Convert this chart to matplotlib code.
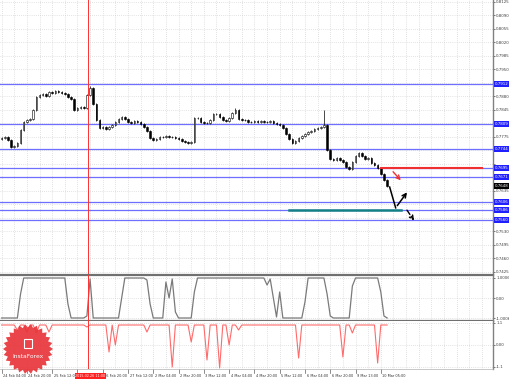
import numpy as np
import matplotlib
matplotlib.use("Agg")
import matplotlib.pyplot as plt
from matplotlib.patches import Polygon

# AUD/USD, 2-hour candles, 24 Feb - 10 Mar 2015
first_open = 0.7770
closes = [
    0.7772, 0.7775, 0.7767, 0.7749, 0.7751, 0.7759, 0.7793, 0.7814, 0.7819, 0.7821,
    0.7845, 0.7878, 0.7884, 0.7886, 0.7881, 0.7891, 0.7889, 0.7894, 0.7891, 0.7889,
    0.7886, 0.7878, 0.7873, 0.7845, 0.7850, 0.7853, 0.7850, 0.7884, 0.7902, 0.7860,
    0.7819, 0.7798, 0.7801, 0.7796, 0.7801, 0.7806, 0.7814, 0.7821, 0.7827, 0.7821,
    0.7814, 0.7811, 0.7816, 0.7814, 0.7808, 0.7801, 0.7790, 0.7772, 0.7767, 0.7770,
    0.7775, 0.7775, 0.7777, 0.7775, 0.7775, 0.7772, 0.7770, 0.7764, 0.7762, 0.7759,
    0.7762, 0.7824, 0.7824, 0.7814, 0.7811, 0.7811, 0.7819, 0.7834, 0.7834, 0.7827,
    0.7819, 0.7816, 0.7824, 0.7837, 0.7845, 0.7821, 0.7819, 0.7819, 0.7814, 0.7814,
    0.7816, 0.7814, 0.7816, 0.7814, 0.7814, 0.7816, 0.7811, 0.7808, 0.7806, 0.7798,
    0.7783, 0.7770, 0.7759, 0.7764, 0.7772, 0.7777, 0.7783, 0.7788, 0.7790, 0.7796,
    0.7798, 0.7801, 0.7806, 0.7741, 0.7718, 0.7715, 0.7720, 0.7715, 0.7710, 0.7697,
    0.7692, 0.7710, 0.7725, 0.7733, 0.7725, 0.7718, 0.7720, 0.7707, 0.7702, 0.7694,
    0.7679, 0.7663, 0.7648,
]
spike_highs = {28: 0.7906, 74: 0.7850, 102: 0.7845}

# oscillator 1 (gray)
trend = [
    -1, -1, -1, -1, -1, -1, 0.2, 1, 1, 1,
    1, 1, 1, 1, 1, 1, 1, 1, 1, 1,
    1, -0.3, -1, -1, -1, -1, -1, -0.9, 0.95, -1,
    -1, -1, -1, -1, -1, -1, -1, -1, 0.0, 1,
    1, 1, 1, 1, 1, 1, 0.9, -0.3, -1, -1,
    -1, -1, 0.8, 0.0, 0.95, -0.7, -1, -1, -1, -1,
    -1, 0.3, 1, 1, 1, 1, 1, 1, 1, 1,
    1, 1, 1, 1, 1, 1, 1, 1, 1, 1,
    1, 1, 1, 1, 0.65, 0.95, 0.0, -0.95, 0.3, -1,
    -1, -1, -1, -1, -1, -1, -0.2, 1, 1, 1,
    1, 1, 1, 0.2, -0.9, -1, -1, -1, -1, -1,
    -1, 0.6, 1, 1, 1, 1, 1, 1, 1, 1,
    0.3, -0.9, -1,
]
# oscillator 2 (red)
signal = [
    1, 1, 1, 1, 1, 0.75, 1, 1, 0.65, 1,
    1, 0.6, 1, 1, 1, 0.65, 1, 1, 1, 1,
    1, 1, 1, 1, 1, 1, 1, 0.9, 1, 1,
    1, 1, 1, 1, -0.35, 1, 0.0, 1, 1, 1,
    1, 1, 1, 1, 1, 1, 0.65, 1, 1, 1,
    1, 1, 1, 1, -1.1, 1, 1, 1, 1, 1,
    0.15, 1, 1, 1, 1, -0.75, 1, 1, 1, -1.15,
    1, 1, 0.0, 1, 1, 0.75, 1, 1, 1, 1,
    1, 1, 1, 1, 1, 1, 1, 1, 1, 1,
    1, 1, 1, 1, -0.65, 1, 1, 1, 1, 1,
    1, 1, 1, 1, 1, 1, 1, 1, -0.6, 1,
    1, 0.6, 1, 1, 1, 1, 1, 1, 1, -0.9,
    1, 1, 1,
]

levels = [0.7912, 0.7809, 0.7744, 0.7695, 0.7671, 0.7606, 0.7586, 0.7560]
support_level = 0.7585
resist_level = 0.7694
time_labels = ["24 Feb 04:00", "24 Feb 20:00", "25 Feb 12:00", "", "26 Feb 20:00",
               "27 Feb 12:00", "2 Mar 04:00", "2 Mar 20:00", "3 Mar 12:00",
               "4 Mar 04:00", "4 Mar 20:00", "5 Mar 12:00", "6 Mar 04:00",
               "6 Mar 20:00", "9 Mar 13:00", "10 Mar 05:00"]
cursor_bar = 27.5
cursor_label = "2015.02.26 11:00"

# forecast arrows (bar, price)
main_path = [(122.8, 0.7645), (124.7, 0.7591), (128.8, 0.7637)]
red_arrow = [(123.3, 0.7690), (126.9, 0.7657)]
dash_arrow = [(127.8, 0.7591), (131.0, 0.7552)]

W, H = 510, 379
fig = plt.figure(figsize=(W / 100, H / 100), dpi=100)


def px_axes(x0, y0, x1, y1):
    return fig.add_axes([x0 / W, 1 - y1 / H, (x1 - x0) / W, (y1 - y0) / H])


ax = px_axes(0, 0, 493, 274)
ax1 = px_axes(0, 275, 493, 321)
ax2 = px_axes(0, 321, 493, 369)

closes = np.array(closes)
x = np.arange(len(closes))
opens = np.r_[first_open, closes[:-1]]
wick = 0.00025
highs = np.maximum(opens, closes) + wick
lows = np.minimum(opens, closes) - wick
for i, h in spike_highs.items():
    highs[i] = h

LBL = 2.9
grid_kw = dict(color="#c8c8c8", lw=0.5, linestyle=(0, (1, 2)))
xmax = 155.5
for a in (ax, ax1, ax2):
    a.set_xlim(-0.5, xmax)
    a.set_xticks(np.arange(0, 156, 4))
    a.grid(True, **grid_kw)
    a.set_axisbelow(True)
    for s in ("left", "top", "bottom"):
        a.spines[s].set_visible(False)
    a.spines["right"].set_color("#808080")
    a.spines["right"].set_linewidth(1)
    a.yaxis.tick_right()
    a.tick_params(axis="y", labelsize=LBL, length=1.5, pad=0.8, colors="#404040",
                  width=0.5)
    a.tick_params(axis="x", length=0, labelbottom=False)

# main price panel
ax.set_ylim(0.74195, 0.8130)
yt = np.arange(0.7425, 0.81251, 0.0035)
ax.set_yticks(yt)
ylabels = []
for v in yt:
    near = any(abs(v - l) < 0.0013 for l in levels + [closes[-1]])
    ylabels.append("" if near else f"{v:.4f}")
ax.set_yticklabels(ylabels)

for l in levels:
    ax.axhline(l, color="#6f6fff", lw=0.9, zorder=1)

ax.vlines(x, lows, highs, color="black", lw=0.5, zorder=3)
up = closes >= opens
ax.bar(x[up], closes[up] - opens[up], bottom=opens[up], width=0.5,
       color="white", edgecolor="black", lw=0.4, zorder=4)
ax.bar(x[~up], closes[~up] - opens[~up], bottom=opens[~up], width=0.5,
       color="black", edgecolor="black", lw=0.4, zorder=4)

ax.plot([91, 126.5], [support_level, support_level], color="#137f86", lw=1.8, zorder=5)
ax.plot([120, 152], [resist_level, resist_level], color="#f03030", lw=1.5, zorder=5)

(x0, y0), (x1, y1), (x2, y2) = main_path
ax.plot([x0, x1], [y0, y1], color="black", lw=1.1, zorder=6)
ax.annotate("", xy=(x2, y2), xytext=(x1, y1),
            arrowprops=dict(arrowstyle="->", color="black", lw=1.1, mutation_scale=7))
ax.annotate("", xy=red_arrow[1], xytext=red_arrow[0],
            arrowprops=dict(arrowstyle="->", color="#f03030", lw=1.0, mutation_scale=7))
ax.annotate("", xy=dash_arrow[1], xytext=dash_arrow[0],
            arrowprops=dict(arrowstyle="->", color="black", lw=1.0, ls="--",
                            mutation_scale=7))

ytr = ax.get_yaxis_transform()
box_kw = dict(boxstyle="square,pad=0.2", ec="none")
for l in levels:
    ax.text(1.003, l, f"{l:.4f}", transform=ytr, fontsize=LBL, color="white",
            va="center", ha="left", bbox=dict(fc="#2020ff", **box_kw), clip_on=False)
ax.text(1.003, closes[-1], f"{closes[-1]:.4f}", transform=ytr, fontsize=LBL,
        color="white", va="center", ha="left", bbox=dict(fc="black", **box_kw),
        clip_on=False)

# oscillator panels
ax1.set_ylim(-1.15, 1.15)
ax1.set_yticks([1.0006, 0, -1.0006])
ax1.set_yticklabels(["1.0006", "0.00", "-1.0006"])
ax1.plot(x, trend, color="#7a7a7a", lw=0.9)
for yy in (1.15, -1.15):
    ax1.axhline(yy, color="#707070", lw=1.6, clip_on=False)

ax2.set_ylim(-1.2, 1.2)
ax2.set_yticks([1.1, 0, -1.1])
ax2.set_yticklabels(["1.1", "0.00", "-1.1"])
ax2.plot(x, signal, color="#ff6a6a", lw=0.8)
ax2.spines["bottom"].set_visible(True)
ax2.spines["bottom"].set_color("#b0b0b0")
ax2.spines["bottom"].set_linewidth(0.5)

for a in (ax, ax1, ax2):
    a.axvline(cursor_bar, color="#ff3030", lw=0.7, zorder=7)

# time axis labels
for k, lab in enumerate(time_labels):
    xi = k * 8
    ax2.plot([xi, xi], [-1.2, -1.38], color="#606060", lw=0.5, clip_on=False)
    if lab:
        ax2.text(xi + 0.5, -1.45, lab, fontsize=2.5, color="#303030", ha="left",
                 va="top", clip_on=False)
ax2.text(cursor_bar + 0.6, -1.45, cursor_label, fontsize=2.4, color="white",
         ha="center", va="top",
         bbox=dict(fc="#ff2020", boxstyle="square,pad=0.2", ec="none"),
         clip_on=False, zorder=8)

# watermark badge
lg = px_axes(3, 324, 53, 374)
lg.set_xlim(-1, 1)
lg.set_ylim(-1, 1)
lg.axis("off")
n = 26
ang = np.linspace(0, 2 * np.pi, 2 * n, endpoint=False)
rad = np.where(np.arange(2 * n) % 2 == 0, 1.0, 0.86)
lg.add_patch(Polygon(np.c_[rad * np.cos(ang), rad * np.sin(ang)],
                     closed=True, fc="#e8353a", ec="none", alpha=0.92))
lg.add_patch(Polygon([[-0.17, 0.05], [0.17, 0.05], [0.17, 0.4], [-0.17, 0.4]],
                     closed=True, fc="none", ec="white", lw=0.8))
lg.text(0, -0.3, "InstaForex", color="white", fontsize=4.3, ha="center", va="center")

fig.savefig("out.png", dpi=100, facecolor="white")
